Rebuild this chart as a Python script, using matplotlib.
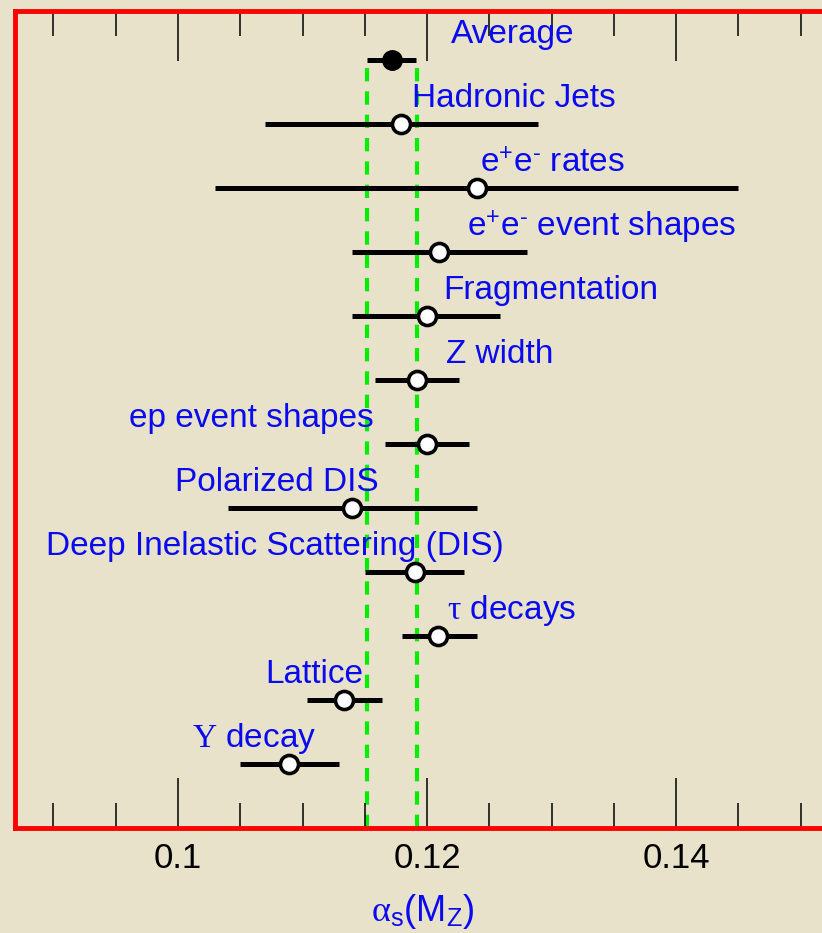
import matplotlib.pyplot as plt
from matplotlib.ticker import MultipleLocator, FixedLocator

plt.rcParams['font.family'] = ['Liberation Sans', 'DejaVu Sans']
plt.rcParams['mathtext.fontset'] = 'custom'
plt.rcParams['mathtext.rm'] = 'Liberation Serif'
plt.rcParams['mathtext.it'] = 'Liberation Serif:italic'
plt.rcParams['mathtext.sf'] = 'Liberation Sans'

# measurements, top to bottom
labels = ["Average", "Hadronic Jets", "e$^{\\mathsf{+}}$e$^{\\mathsf{\u2010}}$ rates",
          "e$^{\\mathsf{+}}$e$^{\\mathsf{\u2010}}$ event shapes", "Fragmentation", "Z width",
          "ep event shapes", "Polarized DIS", "Deep Inelastic Scattering (DIS)",
          r"$\mathrm{\tau}$ decays", "Lattice", r"$\mathrm{\Upsilon}$ decay"]
central = [0.1172, 0.1179, 0.1240, 0.1210, 0.1200, 0.1192,
           0.1200, 0.1140, 0.1190, 0.1209, 0.1133, 0.1089]
err_lo = [0.1152, 0.1070, 0.1030, 0.1140, 0.1140, 0.1158,
          0.1166, 0.1040, 0.1150, 0.1180, 0.1104, 0.1050]
err_hi = [0.1191, 0.1289, 0.1450, 0.1280, 0.1259, 0.1226,
          0.1234, 0.1240, 0.1230, 0.1240, 0.1164, 0.1129]
avg_band = [0.1152, 0.1192]

# where each label starts (x, data units)
label_x = [0.12193, 0.11880, 0.12426, 0.12321, 0.12128, 0.12153,
           0.09606, 0.09976, 0.08940, 0.12161, 0.10699, 0.10112]

bg = '#E9E2CB'
blue = '#0A0AF0'
fig = plt.figure(figsize=(8.22, 9.33), dpi=100, facecolor=bg)
ax = fig.add_axes([0.01825, 0.1125, 0.9915, 0.8757], facecolor=bg)

n = len(labels)
ys = [n - i for i in range(n)]

ax.vlines(avg_band, 0, ys[0], colors='#00EE00', linewidth=3,
          linestyles=(0, (3.2, 2.4)), zorder=1)

for i in range(n):
    y = ys[i]
    ax.plot([err_lo[i], err_hi[i]], [y, y], color='black', lw=3.6,
            solid_capstyle='butt', zorder=2)
    if i == 0:
        ax.plot(central[i], y, 'o', ms=14, mfc='black', mec='black', zorder=3)
    else:
        ax.plot(central[i], y, 'o', ms=13, mfc='white', mec='black',
                mew=2.6, zorder=3)
    ax.text(label_x[i], y + 0.265, labels[i], color=blue, fontsize=24,
            va='baseline', ha='left', zorder=4)

ax.set_xlim(0.086908, 0.15237)
ax.set_ylim(0, 12.77)

ax.xaxis.set_major_locator(FixedLocator([0.1, 0.12, 0.14]))
ax.xaxis.set_minor_locator(MultipleLocator(0.005))
ax.set_xticklabels(["0.1", "0.12", "0.14"])
ax.tick_params(axis='x', which='both', direction='in', top=True, bottom=True,
               labelsize=25, pad=10, color='black')
ax.tick_params(axis='x', which='major', length=36, width=1.1)
ax.tick_params(axis='x', which='minor', length=18, width=1.1)
ax.set_yticks([])

for s in ax.spines.values():
    s.set_color('#FF0000')
    s.set_linewidth(3.5)

ax.set_xlabel(r"$\mathrm{\alpha}_\mathsf{s}$(M$_\mathsf{Z}$)", color=blue,
              fontsize=26, labelpad=12)

fig.savefig('out.png', dpi=100, facecolor=bg)
